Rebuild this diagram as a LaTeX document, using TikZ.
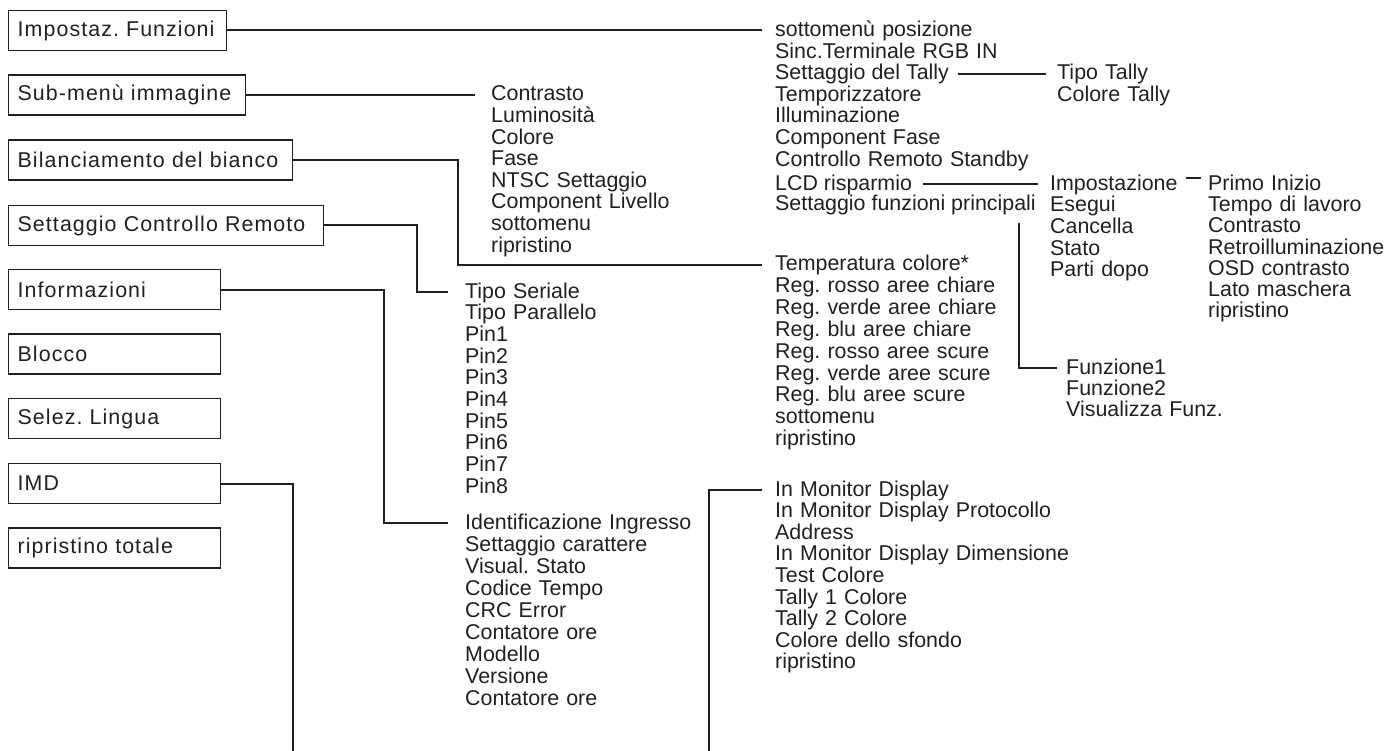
\documentclass[tikz,border=0pt]{standalone}
\usepackage{fontspec}
\setmainfont{Liberation Sans}
\newfontfamily\boxfamily[LetterSpace=5]{Liberation Sans}
\frenchspacing
\definecolor{ink}{HTML}{231F20}
\newcommand{\listpitch}[1]{\fontsize{21.4}{#1}\selectfont}
\newcommand{\boxfont}{\boxfamily\fontsize{21.4}{21.6}\selectfont}
\tikzset{
  menubox/.style={
    draw=ink,
    line width=1.3pt,
    anchor=west,
    minimum height=40pt,
    inner xsep=9pt,
    inner ysep=0pt,
    align=left,
    font=\boxfont,
    text=ink
  },
  entry/.style={
    anchor=base west,
    inner sep=0pt,
    font=\listpitch{21.6},
    text=ink
  },
  entries/.style={
    entry,
    text width=330pt,
    align=left
  },
  link/.style={
    draw=ink,
    line width=2pt
  }
}

\begin{document}
\begin{tikzpicture}[x=1pt,y=-1pt]
  \useasboundingbox (0,0) rectangle (1391,751);

  % main menu
  \node[menubox,text width=200pt] (box-funz) at (8,30.5) {Impostaz. Funzioni};
  \node[menubox,text width=219pt] (box-immagine) at (8,95) {Sub-menù immagine};
  \node[menubox,text width=266pt] (box-bianco) at (8,160) {Bilanciamento del bianco};
  \node[menubox,text width=297pt] (box-remoto) at (8,225.5) {Settaggio Controllo Remoto};
  \node[menubox,text width=194pt] (box-info) at (8,289.5) {Informazioni};
  \node[menubox,text width=194pt] (box-blocco) at (8,354) {Blocco};
  \node[menubox,text width=194pt] (box-lingua) at (8,418.5) {Selez. Lingua};
  \node[menubox,text width=194pt] (box-imd) at (8,483.5) {IMD};
  \node[menubox,text width=194pt] (box-totale) at (8,548) {ripristino totale};

  % Impostaz. Funzioni
  \node[entries] (list-posiz) at (775,36.5) {
    sottomenù posizione\\
    Sinc.Terminale RGB IN
  };
  \node[entry] (set-tally) at (775,79.7) {Settaggio del Tally};
  \node[entries] (list-timer) at (775,101.3) {
    Temporizzatore\\
    Illuminazione\\
    Component Fase\\
    Controllo Remoto Standby
  };
  \node[entry] (set-lcd) at (775,190.5) {LCD risparmio};
  \node[entry] (set-main) at (775,210.5) {Settaggio funzioni principali};

  \node[entries] (list-tally) at (1057,79.7) {
    Tipo Tally\\
    Colore Tally
  };
  \node[entry] (set-imp) at (1050,190.5) {Impostazione};
  \node[entries] (list-imp) at (1050,212) {
    Esegui\\
    Cancella\\
    Stato\\
    Parti dopo
  };
  \node[entries,font=\listpitch{21.2}] (list-primo) at (1208,190.5) {
    Primo Inizio\\
    Tempo di lavoro\\
    Contrasto\\
    Retroilluminazione\\
    OSD contrasto\\
    Lato maschera\\
    ripristino
  };
  \node[entries,font=\listpitch{21.4}] (list-funz) at (1066,374) {
    Funzione1\\
    Funzione2\\
    Visualizza Funz.
  };

  % Sub-menù immagine
  \node[entries] (list-immagine) at (491,101) {
    Contrasto\\
    Luminosità\\
    Colore\\
    Fase\\
    NTSC Settaggio\\
    Component Livello\\
    sottomenu\\
    ripristino
  };

  % Bilanciamento del bianco
  \node[entries,font=\listpitch{21.9}] (list-temp) at (775,270.5) {
    Temperatura colore*\\
    Reg. rosso aree chiare\\
    Reg. verde aree chiare\\
    Reg. blu aree chiare\\
    Reg. rosso aree scure\\
    Reg. verde aree scure\\
    Reg. blu aree scure\\
    sottomenu\\
    ripristino
  };

  % Settaggio Controllo Remoto
  \node[entries,font=\listpitch{21.7}] (list-serial) at (465,298) {
    Tipo Seriale\\
    Tipo Parallelo\\
    Pin1\\
    Pin2\\
    Pin3\\
    Pin4\\
    Pin5\\
    Pin6\\
    Pin7\\
    Pin8
  };

  % Informazioni
  \node[entries,font=\listpitch{22.1}] (list-ident) at (465,529) {
    Identificazione Ingresso\\
    Settaggio carattere\\
    Visual. Stato\\
    Codice Tempo\\
    CRC Error\\
    Contatore ore\\
    Modello\\
    Versione\\
    Contatore ore
  };

  % IMD
  \node[entries] (list-monitor) at (775,496) {
    In Monitor Display\\
    In Monitor Display Protocollo\\
    Address\\
    In Monitor Display Dimensione\\
    Test Colore\\
    Tally 1 Colore\\
    Tally 2 Colore\\
    Colore dello sfondo\\
    ripristino
  };

  \coordinate (imd-end) at (293,751);
  \coordinate (monitor-end) at (709,751);

  \draw[link,shorten >=13pt] (box-funz.east) -- ([yshift=6pt]list-posiz.base west);
  \draw[link,shorten >=16pt] (box-immagine.east) -- ([yshift=6pt]list-immagine.base west);
  \draw[link,shorten >=13pt] (box-bianco.east) -- ++(165,0) |- ([yshift=6pt]list-temp.base west);
  \draw[link,shorten >=17pt] (box-remoto.east) -- ++(93,0) |- ([yshift=6pt]list-serial.base west);
  \draw[link,shorten >=17pt] (box-info.east) -- ++(163,0) |- ([yshift=6pt]list-ident.base west);
  \draw[link] (box-imd.east) -| (imd-end);
  \draw[link,shorten >=13pt] (monitor-end) |- ([yshift=6pt]list-monitor.base west);

  \draw[link,shorten <=9pt,shorten >=11pt] ([yshift=6pt]set-tally.base east) -- ([yshift=6pt]list-tally.base west);
  \draw[link,shorten <=11pt,shorten >=12pt] ([yshift=6pt]set-lcd.base east) -- ([yshift=6pt]set-imp.base west);
  \draw[link,shorten <=8pt,shorten >=7pt] ([yshift=12pt]set-imp.base east) -- ([yshift=12pt]list-primo.base west);
  \draw[link,shorten >=9pt] ([xshift=244pt,yshift=-8pt]set-main.south west) |- ([yshift=6pt]list-funz.base west);
\end{tikzpicture}
\end{document}
